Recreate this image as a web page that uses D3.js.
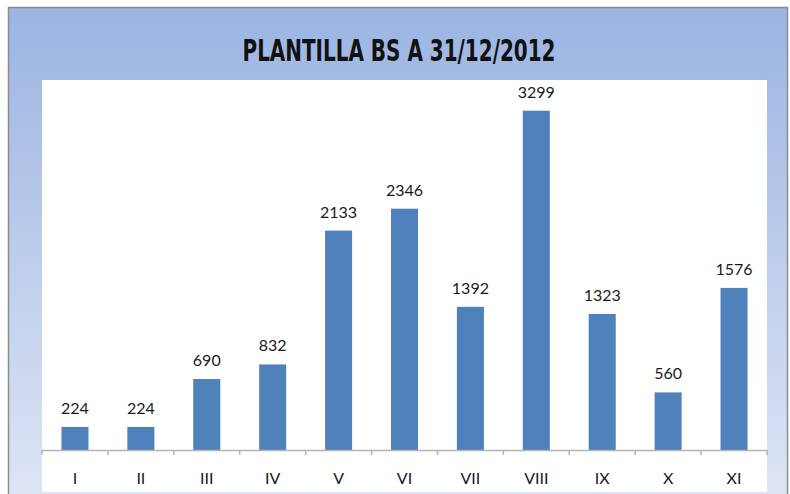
<!DOCTYPE html>
<html>
<head>
<meta charset="utf-8">
<script src="https://cdn.jsdelivr.net/npm/d3@7"></script>
<style>
  html, body { margin: 0; padding: 0; background: #ffffff; }
  svg { display: block; }
</style>
</head>
<body>
<svg id="chart" width="790" height="494"></svg>
<script>
// data
var categories = ["I", "II", "III", "IV", "V", "VI", "VII", "VIII", "IX", "X", "XI"];
var values = [224, 224, 690, 832, 2133, 2346, 1392, 3299, 1323, 560, 1576];
var chartTitle = "PLANTILLA BS A 31/12/2012";

var svgWidth = 790, svgHeight = 494;
var plot = { left: 42, right: 767, top: 80, bottom: 492, axisY: 450 };

var svg = d3.select("#chart");

// background gradient of the chart frame
var defs = svg.append("defs");
var grad = defs.append("linearGradient")
    .attr("id", "bg")
    .attr("x1", 0).attr("y1", 0).attr("x2", 0).attr("y2", 1);
grad.append("stop").attr("offset", "0%").attr("stop-color", "#9bb4e2");
grad.append("stop").attr("offset", "100%").attr("stop-color", "#dfe6f5");

svg.append("rect")
    .attr("x", 8.5).attr("y", 7.5)
    .attr("width", 779).attr("height", 500)
    .attr("fill", "url(#bg)")
    .attr("stroke", "#8c8c8c")
    .attr("stroke-width", 1.5);

// white plot area
svg.append("rect")
    .attr("x", plot.left).attr("y", plot.top)
    .attr("width", plot.right - plot.left)
    .attr("height", plot.bottom - plot.top)
    .attr("fill", "#ffffff");

// title
svg.append("text")
    .attr("x", 399)
    .attr("y", 61)
    .attr("text-anchor", "middle")
    .attr("font-family", "'Liberation Sans Narrow', 'DejaVu Sans Condensed', 'Liberation Sans', sans-serif")
    .attr("font-weight", "bold")
    .attr("font-size", 31)
    .attr("fill", "#111111")
    .attr("textLength", 313)
    .attr("lengthAdjust", "spacingAndGlyphs")
    .text(chartTitle);

// scales
var x = d3.scaleBand()
    .domain(categories)
    .range([plot.left, plot.right])
    .paddingInner(0.59)
    .paddingOuter(0.295);

var y = d3.scaleLinear()
    .domain([0, 3500])
    .range([plot.axisY, plot.axisY - 3500 * 0.10285]);

// bars
svg.selectAll("rect.bar")
    .data(values)
    .enter()
    .append("rect")
    .attr("class", "bar")
    .attr("x", function (d, i) { return x(categories[i]); })
    .attr("y", function (d) { return y(d); })
    .attr("width", x.bandwidth())
    .attr("height", function (d) { return y(0) - y(d); })
    .attr("fill", "#4f81bd");

// value labels
svg.selectAll("text.val")
    .data(values)
    .enter()
    .append("text")
    .attr("class", "val")
    .attr("x", function (d, i) { return x(categories[i]) + x.bandwidth() / 2; })
    .attr("y", function (d) { return y(d) - 13; })
    .attr("text-anchor", "middle")
    .attr("font-family", "Lato, 'Open Sans', sans-serif")
    .attr("font-size", 16)
    .attr("fill", "#1a1a1a")
    .text(function (d) { return d; });

// x axis: labels from d3 axis, ticks at band boundaries
var xAxis = d3.axisBottom(x).tickSize(0).tickPadding(23);
var gx = svg.append("g")
    .attr("transform", "translate(0," + plot.axisY + ")")
    .call(xAxis);
gx.select(".domain").remove();
gx.selectAll("text")
    .attr("font-family", "Lato, 'Open Sans', sans-serif")
    .attr("font-size", 16)
    .attr("fill", "#1a1a1a");

var half = (x.step() - x.bandwidth()) / 2;
var bounds = categories.map(function (c) { return x(c) - half; });
bounds.push(x(categories[categories.length - 1]) + x.bandwidth() + half);

gx.append("line")
    .attr("x1", plot.left).attr("x2", plot.right)
    .attr("y1", 0.5).attr("y2", 0.5)
    .attr("stroke", "#b3b3b3")
    .attr("stroke-width", 1.5);

gx.selectAll("line.tk")
    .data(bounds)
    .enter()
    .append("line")
    .attr("class", "tk")
    .attr("x1", function (d) { return d; })
    .attr("x2", function (d) { return d; })
    .attr("y1", 0).attr("y2", 5)
    .attr("stroke", "#b3b3b3")
    .attr("stroke-width", 1.5);
</script>
</body>
</html>
